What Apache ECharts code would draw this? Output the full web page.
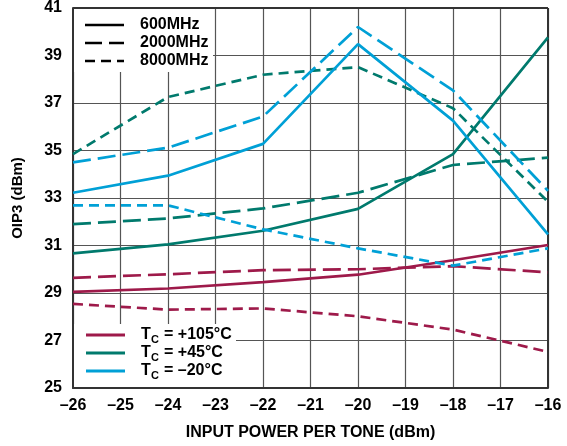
<!DOCTYPE html>
<html><head><meta charset="utf-8">
<script src="https://cdn.jsdelivr.net/npm/echarts@6/dist/echarts.min.js"></script>
<style>html,body{margin:0;padding:0;background:#fff}#c{width:567px;height:446px}</style>
</head><body><div id="c"></div>
<script>
const xValues = [-26, -24, -22, -20, -18, -16];
const xTicks = [-26,-25,-24,-23,-22,-21,-20,-19,-18,-17,-16];
const yTicks = [25,27,29,31,33,35,37,39,41];

const red600  = [29.05, 29.19, 29.46, 29.77, 30.38, 31.02];
const red2000 = [29.64, 29.79, 29.96, 30.00, 30.13, 29.87];
const red8000 = [28.54, 28.30, 28.35, 28.02, 27.46, 26.52];
const teal600  = [30.67, 31.05, 31.62, 32.54, 34.85, 39.76];
const teal2000 = [31.90, 32.14, 32.56, 33.22, 34.39, 34.70];
const teal8000 = [34.85, 37.25, 38.19, 38.51, 36.78, 32.84];
const blue600  = [33.22, 33.94, 35.28, 39.48, 36.26, 31.47];
const blue2000 = [34.50, 35.12, 36.43, 40.20, 37.53, 33.30];
const blue8000 = [32.69, 32.69, 31.68, 30.88, 30.15, 30.88];

const freqLabels = ['600MHz','2000MHz','8000MHz'];
const tempLabels = ['+105°C','+45°C','–20°C'];
const colors = {red:'#9e1a4a', teal:'#007a6d', blue:'#00a0d6'};
const dashes = [null, [18,7], [10,6]];

const fmt = v => v < 0 ? '–' + Math.abs(v) : String(v);
const mk = (name, arr, color, di) => ({
  name, type:'line', data: xValues.map((x,i)=>[x,arr[i]]), showSymbol:false, symbol:'none',
  lineStyle:{color, width:2.7, type: dashes[di] || 'solid'}, z:3, animation:false
});

const chart = echarts.init(document.getElementById('c'), null, {renderer:'canvas'});
const F = 'Liberation Sans, Arial, sans-serif';
const graphic = [
  {type:'rect', shape:{x:74,y:9,width:139,height:63}, style:{fill:'#fff'}, z:1},
  {type:'rect', shape:{x:74,y:324,width:162,height:63}, style:{fill:'#fff'}, z:1}
];
const legY1 = [25,43,61];
const legDash = [null,[17,7],[10,6]];
legY1.forEach((y,i)=>{
  graphic.push({type:'line', shape:{x1:85,y1:y,x2:124,y2:y}, style:{stroke:'#000', lineWidth:2.7, lineDash: legDash[i]||null}, z:5});
  graphic.push({type:'text', style:{text:freqLabels[i], x:140, y:y, font:'bold 16px '+F, fill:'#000', verticalAlign:'middle'}, z:5});
});
const legY2 = [335,353,371];
const tc = [colors.red, colors.teal, colors.blue];
legY2.forEach((y,i)=>{
  graphic.push({type:'line', shape:{x1:86,y1:y,x2:125,y2:y}, style:{stroke:tc[i], lineWidth:2.8}, z:5});
  graphic.push({type:'text', style:{text:'T', x:141, y:y, font:'bold 16px '+F, fill:'#000', verticalAlign:'middle'}, z:5});
  graphic.push({type:'text', style:{text:'C', x:151, y:y+5, font:'bold 11px '+F, fill:'#000', verticalAlign:'middle'}, z:5});
  graphic.push({type:'text', style:{text:'= ' + tempLabels[i], x:164, y:y, font:'bold 16px '+F, fill:'#000', verticalAlign:'middle'}, z:5});
});

chart.setOption({
  animation:false,
  grid:{left:73, right:19, top:8, bottom:58, show:false},
  xAxis:{type:'value', min:-26, max:-16, interval:1,
    axisLine:{show:true, onZero:false, lineStyle:{color:'#333', width:2}},
    axisTick:{show:false},
    axisLabel:{formatter:fmt, color:'#000', fontFamily:F, fontWeight:'bold', fontSize:16, margin:10},
    splitLine:{show:true, lineStyle:{color:'#555', width:1.2}},
    name:'INPUT POWER PER TONE (dBm)', nameLocation:'middle', nameGap:37,
    nameTextStyle:{color:'#000', fontFamily:F, fontWeight:'bold', fontSize:16}
  },
  yAxis:{type:'value', min:25, max:41, interval:2,
    axisLine:{show:true, onZero:false, lineStyle:{color:'#333', width:2}},
    axisTick:{show:false},
    axisLabel:{color:'#000', fontFamily:F, fontWeight:'bold', fontSize:16, margin:11},
    splitLine:{show:true, lineStyle:{color:'#555', width:1.2}},
    name:'OIP3 (dBm)', nameLocation:'middle', nameGap:48, nameRotate:90,
    nameTextStyle:{color:'#000', fontFamily:F, fontWeight:'bold', fontSize:15}
  },
  graphic,
  series:[
    mk('r600',red600,colors.red,0), mk('r2000',red2000,colors.red,1), mk('r8000',red8000,colors.red,2),
    mk('t600',teal600,colors.teal,0), mk('t2000',teal2000,colors.teal,1), mk('t8000',teal8000,colors.teal,2),
    mk('b600',blue600,colors.blue,0), mk('b2000',blue2000,colors.blue,1), mk('b8000',blue8000,colors.blue,2),
    {type:'line', data:[[-16,25],[-16,41]], symbol:'none', lineStyle:{color:'#333',width:2}, z:1, silent:true},
    {type:'line', data:[[-26,41],[-16,41]], symbol:'none', lineStyle:{color:'#333',width:2}, z:1, silent:true}
  ]
});
</script></body></html>
